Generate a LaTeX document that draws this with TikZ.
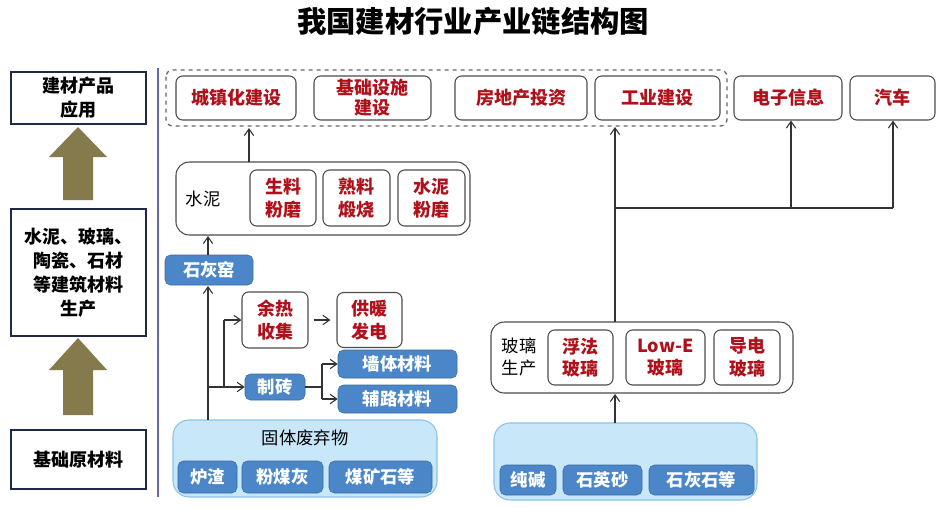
\documentclass[tikz,border=0pt]{standalone}
\usepackage{fontspec}
\setmainfont{Noto Sans CJK SC}
\usetikzlibrary{arrows.meta,calc}
\definecolor{rd}{HTML}{B0101A}
\definecolor{bl}{HTML}{4A86C8}
\definecolor{lb}{HTML}{C8E8FA}
\definecolor{lbd}{HTML}{8CC3E8}
\definecolor{ol}{HTML}{857A4C}
\definecolor{nv}{HTML}{1F2A44}
\begin{document}
\begin{tikzpicture}[x=0.75pt,y=-0.75pt,
 rb/.style={draw=black!70,line width=0.8pt,rounded corners=5pt,fill=white},
 redt/.style={text=rd,font=\bfseries\fontsize{13.5}{17}\selectfont,align=center},
 blb/.style={fill=bl,draw=bl!80!black,rounded corners=4pt,text=white,font=\bfseries\fontsize{13}{15}\selectfont},
 lft/.style={draw=nv,line width=1.6pt,font=\bfseries\fontsize{13.5}{18}\selectfont,align=center},
 ar/.style={-{Straight Barb[length=5pt,width=7pt]},black!80,line width=0.8pt},
 ln/.style={black!80,line width=0.8pt}]
\useasboundingbox (0,0) rectangle (945,507);
\node[font=\bfseries\fontsize{22}{26}\selectfont] (title) at (473,21) {我国建材行业产业链结构图};
% left
\node[lft,minimum width=135*0.75pt,minimum height=52*0.75pt,inner sep=1pt] (L1) at (78.5,98) {建材产品\\应用};
\node[lft,minimum width=135*0.75pt,minimum height=127*0.75pt,inner sep=1pt] (L2) at (78.5,272.5) {水泥、玻璃、\\陶瓷、石材\\等建筑材料\\生产};
\node[lft,minimum width=135*0.75pt,minimum height=59*0.75pt] (L3) at (78.5,459.5) {基础原材料};
\fill[ol] (63,200)--(93,200)--(93,157)--(107,157)--(78,127)--(49,157)--(63,157)--cycle;
\fill[ol] (63,415)--(93,415)--(93,370)--(107,370)--(78,338)--(49,370)--(63,370)--cycle;
\draw[black!50!blue!60,line width=1.2pt] (158,68)--(158,497);
% top
\draw[rb,dashed,draw=black!60,line width=1pt] (166,70) rectangle (727,126);
\node[rb,redt,minimum width=120*0.75pt,minimum height=44*0.75pt] (a1) at (236,98) {城镇化建设};
\node[rb,redt,minimum width=117*0.75pt,minimum height=44*0.75pt,inner sep=1pt] (a2) at (372.5,98) {基础设施\\[-2pt]建设};
\node[rb,redt,minimum width=132*0.75pt,minimum height=44*0.75pt] (a3) at (521,98) {房地产投资};
\node[rb,redt,minimum width=125*0.75pt,minimum height=44*0.75pt] (a4) at (657.5,98) {工业建设};
\node[rb,redt,minimum width=108*0.75pt,minimum height=44*0.75pt] (a5) at (788,98) {电子信息};
\node[rb,redt,minimum width=85*0.75pt,minimum height=44*0.75pt] (a6) at (892.5,98) {汽车};
% cement
\node[rb,minimum width=294*0.75pt,minimum height=73*0.75pt,rounded corners=10pt] (cem) at (323,198.5) {};
\node[font=\fontsize{13}{15}\selectfont] (cemt) at (203,199) {水泥};
\node[rb,redt,minimum width=66*0.75pt,minimum height=56*0.75pt,inner sep=1pt] (c1) at (283,198) {生料\\粉磨};
\node[rb,redt,minimum width=67*0.75pt,minimum height=56*0.75pt,inner sep=1pt] (c2) at (356.5,198) {熟料\\煅烧};
\node[rb,redt,minimum width=67*0.75pt,minimum height=56*0.75pt,inner sep=1pt] (c3) at (431.5,198) {水泥\\粉磨};
\coordinate (ct) at (249,162);
\coordinate (ctt) at (249,128);
\draw[ar] (ct) -- (ctt);
% lime
\node[blb,minimum width=88*0.75pt,minimum height=30*0.75pt] (lime) at (209,270) {石灰窑};
\coordinate (lt) at (208,255);
\coordinate (ctb) at (208,236);
\draw[ar] (lt) -- (ctb);
% solid waste
\node[fill=lb,draw=lbd,line width=0.8pt,rounded corners=12pt,minimum width=264*0.75pt,minimum height=77*0.75pt] (sw) at (305,458.5) {};
\node[font=\fontsize{13}{15}\selectfont] (swt) at (305,438) {固体废弃物};
\node[blb,minimum width=59*0.75pt,minimum height=32*0.75pt] (s1) at (207.5,477) {炉渣};
\node[blb,minimum width=81*0.75pt,minimum height=32*0.75pt] (s2) at (282.5,477) {粉煤灰};
\node[blb,minimum width=103*0.75pt,minimum height=32*0.75pt] (s3) at (380.5,477) {煤矿石等};
\coordinate (swtop) at (208,420);
\coordinate (lb) at (208,286);
\draw[ar] (swtop) -- (lb);
\node[rb,redt,minimum width=66*0.75pt,minimum height=56*0.75pt,inner sep=1pt] (h1) at (275,320) {余热\\收集};
\node[rb,redt,minimum width=65*0.75pt,minimum height=55*0.75pt,inner sep=1pt] (h2) at (369.5,320) {供暖\\发电};
\node[blb,minimum width=60*0.75pt,minimum height=26*0.75pt] (zz) at (275,387) {制砖};
\node[blb,minimum width=119*0.75pt,minimum height=28*0.75pt] (q1) at (397.5,364) {墙体材料};
\node[blb,minimum width=119*0.75pt,minimum height=28*0.75pt] (q2) at (397.5,399) {辅路材料};
\coordinate (j1) at (208,387);
\coordinate (j2) at (224,320);
\draw[ln] (j1) -| (j2);
\draw[ar] (j2) -- (h1.west);
\draw[ar] (j1) -- (zz.west);
\draw[ar] ($(h1.east)+(5,0)$) -- ($(h2.west)+(-6,0)$);
\coordinate (j3) at (322,387);
\draw[ln] (zz.east) -- (j3);
\draw[ln] (322,364) -- (322,399);
\draw[ar] (322,364) -- (q1.west);
\draw[ar] (322,399) -- (q2.west);
% glass
\node[rb,minimum width=302*0.75pt,minimum height=71*0.75pt,rounded corners=10pt] (gl) at (642,357.5) {};
\node[font=\fontsize{13}{17}\selectfont,align=center] (glt) at (519,357) {玻璃\\生产};
\node[rb,redt,minimum width=65*0.75pt,minimum height=55*0.75pt,inner sep=1pt] (g1) at (580.5,357.5) {浮法\\玻璃};
\node[rb,redt,minimum width=79*0.75pt,minimum height=55*0.75pt,inner sep=1pt] (g2) at (665.5,357.5) {Low-E\\玻璃};
\node[rb,redt,minimum width=66*0.75pt,minimum height=55*0.75pt,inner sep=1pt] (g3) at (747,357.5) {导电\\玻璃};
\node[fill=lb,draw=lbd,line width=0.8pt,rounded corners=12pt,minimum width=263*0.75pt,minimum height=77*0.75pt] (rw) at (625.5,461.5) {};
\node[blb,minimum width=56*0.75pt,minimum height=30*0.75pt] (r1) at (528,480) {纯碱};
\node[blb,minimum width=79*0.75pt,minimum height=30*0.75pt] (r2) at (602.5,480) {石英砂};
\node[blb,minimum width=105*0.75pt,minimum height=30*0.75pt] (r3) at (701.5,480) {石灰石等};
\coordinate (rt) at (615,423);
\coordinate (gb) at (615,394);
\coordinate (gt) at (615,322);
\coordinate (dt) at (615,127);
\coordinate (h0) at (615,208);
\coordinate (hx) at (893,208);
\coordinate (hm) at (791,208);
\draw[ar] (rt) -- (gb);
\draw[ar] (gt) -- (dt);
\draw[ln] (h0) -- (hx);
\draw[ar] (hm) -- (hm|-a5.south);
\draw[ar] (hx) -- (hx|-a6.south);
\end{tikzpicture}
\end{document}
